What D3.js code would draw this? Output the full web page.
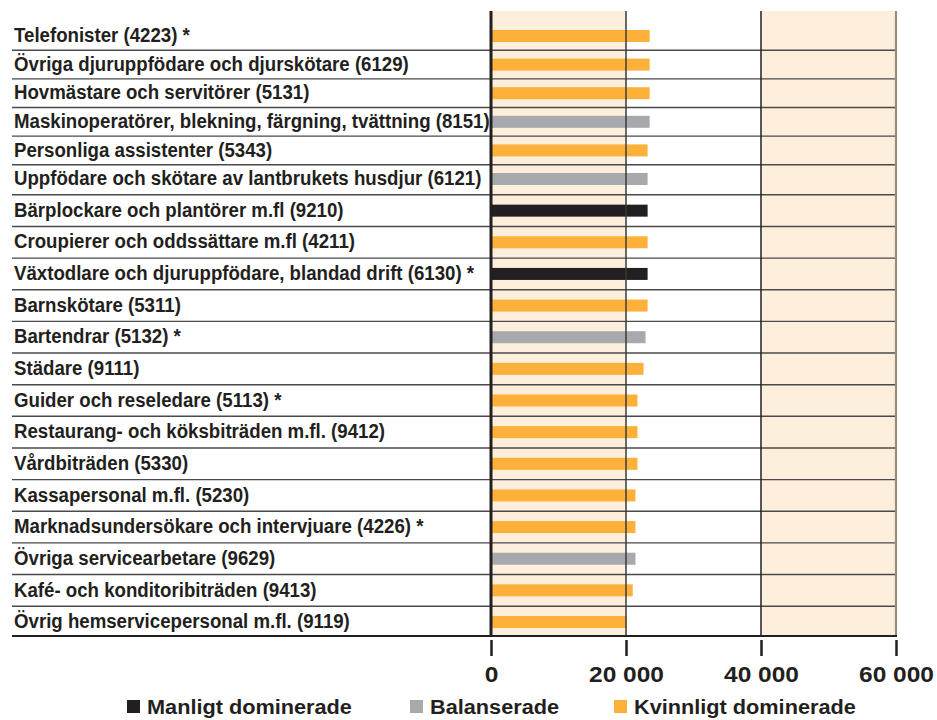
<!DOCTYPE html>
<html><head><meta charset="utf-8">
<script src="https://cdn.jsdelivr.net/npm/d3@7"></script>
<style>
html,body{margin:0;padding:0;background:#fff;}
svg{display:block;}
text{font-family:"Liberation Sans",Arial,sans-serif;font-weight:bold;fill:#231f20;}
</style></head>
<body>
<svg id="chart" width="937" height="720"></svg>
<script>
const categories = [
  "Telefonister (4223) *",
  "Övriga djuruppfödare och djurskötare (6129)",
  "Hovmästare och servitörer (5131)",
  "Maskinoperatörer, blekning, färgning, tvättning (8151)",
  "Personliga assistenter (5343)",
  "Uppfödare och skötare av lantbrukets husdjur (6121)",
  "Bärplockare och plantörer m.fl (9210)",
  "Croupierer och oddssättare m.fl (4211)",
  "Växtodlare och djuruppfödare, blandad drift (6130) *",
  "Barnskötare (5311)",
  "Bartendrar (5132) *",
  "Städare (9111)",
  "Guider och reseledare (5113) *",
  "Restaurang- och köksbiträden m.fl. (9412)",
  "Vårdbiträden (5330)",
  "Kassapersonal m.fl. (5230)",
  "Marknadsundersökare och intervjuare (4226) *",
  "Övriga servicearbetare (9629)",
  "Kafé- och konditoribiträden (9413)",
  "Övrig hemservicepersonal m.fl. (9119)"
];
const values = [23500, 23500, 23500, 23500, 23200, 23200, 23200, 23200, 23200, 23200,
                22900, 22600, 21700, 21700, 21700, 21400, 21400, 21400, 21000, 20100];
const groups = ["K","K","K","B","K","B","M","K","M","K","B","K","K","K","K","K","K","B","K","K"];
const legendKeys = ["M","B","K"];
const legendLabels = ["Manligt dominerade", "Balanserade", "Kvinnligt dominerade"];
const tickValues = [0, 20000, 40000, 60000];

const colors = {M:"#231f20", B:"#a7a9ac", K:"#fdb03a"};
const svg = d3.select("#chart");

const plotTop = 11, plotBottom = 636, leftEdge = 12;
const x = d3.scaleLinear().domain([0, 60000]).range([491, 896]);
// row centres (the reference rows are slightly tighter at the top)
const yc = d3.scaleLinear().domain([0, 5, 19]).range([36, 179, 622]);
const barH = 12;

function measure(str, fs) {
  const t = svg.append("text").attr("font-size", fs).text(str);
  const w = t.node().getComputedTextLength();
  t.remove();
  return w;
}

// background bands
const bands = [[0,20000,"#feefdc"],[20000,40000,"#ffffff"],[40000,60000,"#feefdc"]];
svg.selectAll("rect.band").data(bands).join("rect").attr("class","band")
  .attr("x", d => x(d[0])).attr("width", d => x(d[1]) - x(d[0]))
  .attr("y", plotTop).attr("height", plotBottom - plotTop).attr("fill", d => d[2]);

// bars
svg.selectAll("rect.bar").data(values).join("rect").attr("class","bar")
  .attr("x", x(0)).attr("width", d => x(d) - x(0))
  .attr("y", (d,i) => yc(i) - barH/2).attr("height", barH)
  .attr("fill", (d,i) => colors[groups[i]]);

// row separators
const seps = d3.range(1, categories.length).map(i => (yc(i-1) + yc(i)) / 2);
svg.selectAll("line.sep").data(seps).join("line").attr("class","sep")
  .attr("x1", leftEdge).attr("x2", x(60000))
  .attr("y1", d => d).attr("y2", d => d)
  .attr("stroke", "#4a4a4a").attr("stroke-width", 1.4);

// vertical grid lines
const grid = [[20000,"#3a3a3a",1.5],[40000,"#231f20",1.5],[60000,"#9b8b7d",2.2]];
svg.selectAll("line.grid").data(grid).join("line").attr("class","grid")
  .attr("x1", d => x(d[0])).attr("x2", d => x(d[0]))
  .attr("y1", plotTop).attr("y2", plotBottom)
  .attr("stroke", d => d[1]).attr("stroke-width", d => d[2]);

// zero line
svg.append("line").attr("x1", x(0)).attr("x2", x(0)).attr("y1", plotTop).attr("y2", plotBottom)
  .attr("stroke", "#231f20").attr("stroke-width", 3);

// bottom axis line
svg.append("line").attr("x1", leftEdge).attr("x2", x(60000) + 1).attr("y1", plotBottom).attr("y2", plotBottom)
  .attr("stroke", "#231f20").attr("stroke-width", 2.2);

// category labels: condensed (horizontally scaled) bold type
const fsLab = 20;
const sxLab = 476 / measure(categories[3], fsLab);
const labelG = svg.append("g").attr("transform", `translate(14,0) scale(${sxLab},1)`);
labelG.selectAll("text").data(categories).join("text")
  .attr("x", 0).attr("y", (d,i) => yc(i) - 1 + 0.36 * fsLab)
  .attr("font-size", fsLab).text(d => d);

// x axis
const tickFmt = d => d === 0 ? "0" : d3.format(",")(d).replace(/,/g, " ");
const axis = d3.axisBottom(x).tickValues(tickValues).tickSize(20).tickSizeOuter(0).tickPadding(6)
  .tickFormat(tickFmt);
const ag = svg.append("g").attr("transform", `translate(0,${plotBottom})`).call(axis);
ag.select(".domain").remove();
ag.selectAll(".tick line").attr("stroke", "#231f20").attr("stroke-width", 2.5).attr("y1", 4);
const fsTick = 22.5;
const sxTick = 75 / measure("20 000", fsTick);
ag.selectAll(".tick text").attr("font-size", fsTick).attr("font-family", null)
  .attr("fill", "#231f20").attr("dy", null).attr("y", 0)
  .attr("transform", `translate(0,46) scale(${sxTick},1)`);

// legend
const fsLeg = 21;
const sxLeg = 205 / measure(legendLabels[0], fsLeg);
const legX = [127, 410, 614];
const lg = svg.selectAll("g.leg").data(legendKeys).join("g").attr("class","leg")
  .attr("transform", (d,i) => `translate(${legX[i]},0)`);
lg.append("rect").attr("x", 0).attr("y", 700).attr("width", 13).attr("height", 13)
  .attr("fill", d => colors[d]);
lg.append("text").attr("x", 0).attr("y", 0).attr("font-size", fsLeg)
  .attr("transform", `translate(20,714) scale(${sxLeg},1)`)
  .text((d,i) => legendLabels[i]);
</script>
</body></html>
